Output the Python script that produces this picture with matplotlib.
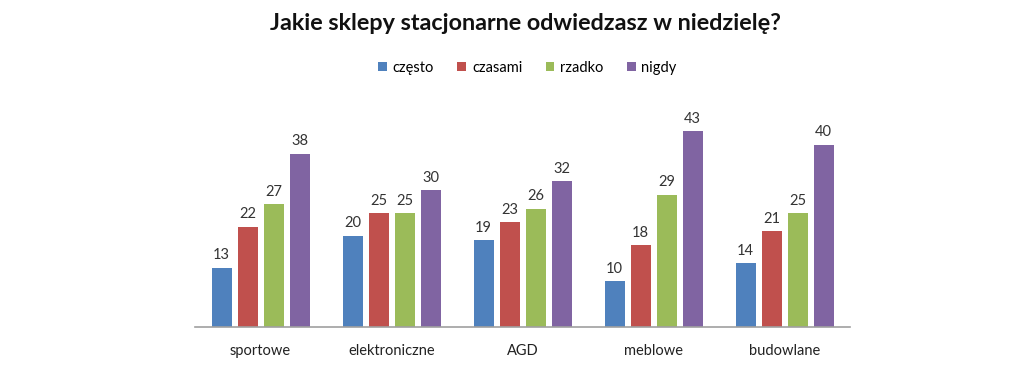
import numpy as np
import matplotlib.pyplot as plt

categories = ['sportowe', 'elektroniczne', 'AGD', 'meblowe', 'budowlane']
series_names = ['często', 'czasami', 'rzadko', 'nigdy']
czesto = [13, 20, 19, 10, 14]
czasami = [22, 25, 23, 18, 21]
rzadko = [27, 25, 26, 29, 25]
nigdy = [38, 30, 32, 43, 40]
colors = ['#4F81BD', '#C0504D', '#9BBB59', '#8064A2']

plt.rcParams['font.family'] = ['Lato', 'DejaVu Sans']

fig = plt.figure(figsize=(10.24, 3.88), dpi=100)
ax = fig.add_axes([195 / 1024, 61 / 388, 655 / 1024, 205 / 388])

x = np.arange(len(categories))
step = 26 / 131
width = 20 / 131
for i, (vals, name) in enumerate(zip([czesto, czasami, rzadko, nigdy], series_names)):
    pos = x + (i - 1.5) * step
    bars = ax.bar(pos, vals, width, color=colors[i], label=name)
    for b, v in zip(bars, vals):
        ax.text(b.get_x() + b.get_width() / 2, v + 1.2, str(v), ha='center', va='bottom',
                fontsize=10.5, color='#333333')

ax.set_xlim(-0.5, len(categories) - 0.5)
ax.set_ylim(0, 45)
ax.set_xticks(x)
ax.set_xticklabels(categories, fontsize=10.5, color='#222222')
ax.tick_params(axis='x', length=0, pad=12)
ax.set_yticks([])
for s in ['top', 'right', 'left']:
    ax.spines[s].set_visible(False)
ax.spines['bottom'].set_color('#A0A0A0')
ax.spines['bottom'].set_linewidth(1.2)

fig.text(525 / 1024, 1 - 23 / 388, 'Jakie sklepy stacjonarne odwiedzasz w niedzielę?', ha='center', va='center',
         fontsize=16.8, fontweight='bold', color='#111111')
fig.legend(loc='center', bbox_to_anchor=(0.515, 1 - 68 / 388), ncol=4, frameon=False, fontsize=10.5,
           handlelength=0.6, handleheight=0.6, handletextpad=0.4, columnspacing=1.6)

fig.savefig('out.png', dpi=100)
